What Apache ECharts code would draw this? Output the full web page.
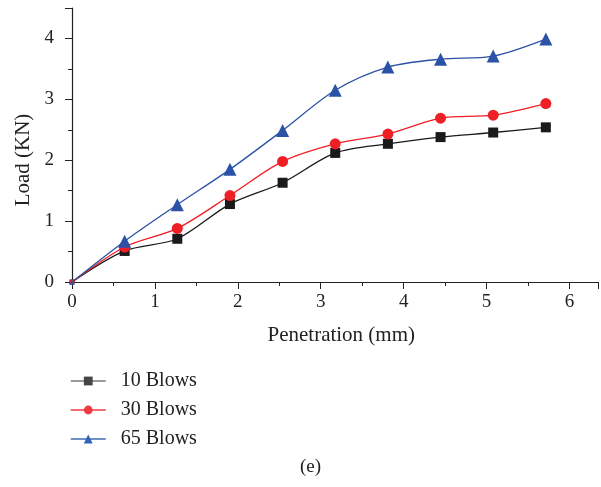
<!DOCTYPE html>
<html><head><meta charset="utf-8">
<script src="https://cdn.jsdelivr.net/npm/echarts@6/dist/echarts.min.js"></script>
<style>html,body{margin:0;padding:0;background:#fff}#c{width:601px;height:487px}</style>
</head><body><div id="c"></div>
<script>
const penetration = [0, 0.635, 1.27, 1.905, 2.54, 3.175, 3.81, 4.445, 5.08, 5.715];
const blows10 = [0, 0.51, 0.71, 1.28, 1.63, 2.12, 2.27, 2.38, 2.455, 2.54];
const blows30 = [0, 0.575, 0.88, 1.42, 1.98, 2.27, 2.43, 2.69, 2.74, 2.93];
const blows65 = [0, 0.67, 1.27, 1.85, 2.49, 3.15, 3.53, 3.66, 3.71, 3.99];
const seriesNames = ['10 Blows', '30 Blows', '65 Blows'];
const xTicks = [0, 1, 2, 3, 4, 5, 6];
const yTicks = [0, 1, 2, 3, 4];

const font = 'Liberation Serif';
const pair = a => penetration.map((x, i) => [x, a[i]]);
const chart = echarts.init(document.getElementById('c'), null, {renderer: 'canvas'});
const mk = (name, data, color, symbol, size) => ({
  name, type: 'line', data: pair(data), smooth: 0.3,
  symbol, symbolSize: (v, p) => (p.dataIndex === 0 ? 5 : size), showSymbol: true,
  lineStyle: {color, width: 1.3}, itemStyle: {color},
  z: 3
});
chart.setOption({
  animation: false,
  backgroundColor: '#fff',
  grid: {left: 72, right: 2.5, top: 8, bottom: 205},
  xAxis: {
    type: 'value', min: 0, max: 6.35, interval: 1,
    axisLine: {lineStyle: {color: '#222', width: 1.2}},
    axisTick: {show: true, inside: false, length: 7, lineStyle: {color: '#222'}},
    minorTick: {show: true, splitNumber: 2, length: 4, lineStyle: {color: '#222'}},
    splitLine: {show: false},
    axisLabel: {color: '#222', fontFamily: font, fontSize: 19, margin: 11, showMaxLabel: false,
      formatter: v => xTicks.includes(v) ? String(v) : ''},
    name: 'Penetration (mm)', nameLocation: 'middle', nameGap: 43,
    nameTextStyle: {color: '#222', fontFamily: font, fontSize: 21, padding: [0, 0, 0, 12]}
  },
  yAxis: {
    type: 'value', min: 0, max: 4.5, interval: 1,
    axisLine: {show: true, lineStyle: {color: '#222', width: 1.2}},
    axisTick: {show: true, inside: false, length: 7, lineStyle: {color: '#222'}},
    minorTick: {show: true, splitNumber: 2, length: 4, lineStyle: {color: '#222'}},
    splitLine: {show: false},
    axisLabel: {color: '#222', fontFamily: font, fontSize: 19, margin: 18, showMaxLabel: false,
      formatter: v => yTicks.includes(v) ? String(v) : ''},
    name: 'Load (KN)', nameLocation: 'middle', nameGap: 38,
    nameTextStyle: {color: '#222', fontFamily: font, fontSize: 21, padding: [0, 30, 0, 0]}
  },
  legend: {
    orient: 'vertical', left: 65, top: 366,
    itemWidth: 35, itemHeight: 11, itemGap: 9,
    textStyle: {color: '#222', fontFamily: font, fontSize: 20, lineHeight: 20, padding: [0, 0, 0, 10]},
    data: [
      {name: seriesNames[0], itemStyle: {color: '#444'}, lineStyle: {color: '#777', width: 1.5}},
      {name: seriesNames[1], itemStyle: {color: '#ee3b3f'}, lineStyle: {color: '#ee3b3f', width: 1.5}},
      {name: seriesNames[2], itemStyle: {color: '#2f63b7'}, lineStyle: {color: '#3d6bb5', width: 1.5}}
    ]
  },
  graphic: [{type: 'text', left: 300, top: 458,
    style: {text: '(e)', fill: '#222', font: '19px "Liberation Serif"'}}],
  series: [
    mk(seriesNames[0], blows10, '#1a1a1a', 'rect', 10),
    mk(seriesNames[1], blows30, '#ee1f25', 'circle', 11),
    mk(seriesNames[2], blows65, '#2b52a6', 'triangle', 13)
  ]
});
</script></body></html>
